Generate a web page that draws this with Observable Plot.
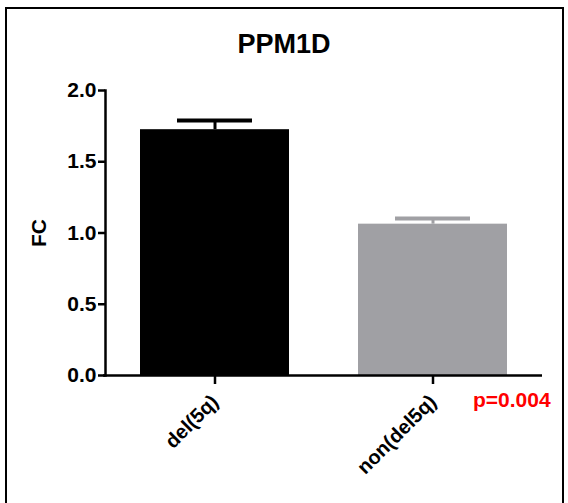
<!DOCTYPE html>
<html>
<head>
<meta charset="utf-8">
<script src="https://cdn.jsdelivr.net/npm/d3@7"></script>
<script src="https://cdn.jsdelivr.net/npm/@observablehq/plot@0.6"></script>
<style>
  body { margin: 0; background: #fff; }
  #wrap { position: relative; width: 568px; height: 503px; overflow: hidden; background: #fff;
          font-family: "Liberation Sans", Arial, Helvetica, sans-serif; font-weight: bold; }
  #border { position: absolute; left: 5px; top: 7px; width: 559px; height: 520px; border: 2.5px solid #000; box-sizing: border-box; }
  #title { position: absolute; left: 0; top: 31px; width: 568px; text-align: center; font-size: 27px; line-height: 27px; color: #000; }
  #ylabel { position: absolute; left: 38px; top: 233px; font-size: 21px; line-height: 21px; transform: translate(-50%, -50%) rotate(-90deg); white-space: nowrap; }
  #chart { position: absolute; left: 0; top: 70px; }
  #pval { position: absolute; left: 473px; top: 390px; font-size: 21px; line-height: 20px; color: #ff0000; }
</style>
</head>
<body>
<div id="wrap">
  <div id="border"></div>
  <div id="title"></div>
  <div id="ylabel"></div>
  <div id="chart"></div>
  <div id="pval"></div>
</div>
<script>
const title = "PPM1D";
const groups = ["del(5q)", "non(del5q)"];
const fcMean = [1.725, 1.062];
const fcSem = [0.065, 0.040];
const barColors = ["#000000", "#a0a0a4"];
const yTicks = [0, 0.5, 1.0, 1.5, 2.0];
const yLabel = "FC";
const pText = "p=0.004";

const data = groups.map((g, i) => ({group: g, fc: fcMean[i], top: fcMean[i] + fcSem[i], color: barColors[i]}));

document.getElementById("title").textContent = title;
document.getElementById("ylabel").textContent = yLabel;
document.getElementById("pval").textContent = pText;

const chart = Plot.plot({
  width: 568,
  height: 433,
  marginTop: 20,
  marginBottom: 128,
  marginLeft: 105,
  marginRight: 26,
  style: {fontFamily: '"Liberation Sans", Arial, sans-serif', fontWeight: "bold", fontSize: "21px", color: "#000", background: "transparent"},
  x: {domain: groups, paddingInner: 0.318, paddingOuter: 0.16},
  y: {domain: [0, 2]},
  marks: [
    Plot.barY(data, {x: "group", y: "fc", fill: "color"}),
    Plot.ruleX(data, {x: "group", y1: "fc", y2: "top", stroke: "color", strokeWidth: 3}),
    Plot.tickY(data, {x: "group", y: "top", stroke: "color", strokeWidth: 4, insetLeft: 37, insetRight: 37}),
    Plot.axisY({ticks: yTicks, tickFormat: d3.format(".1f"), tickSize: 7, tickPadding: 2, strokeWidth: 2.5,
                label: null, fontSize: 21}),
    Plot.axisX({tickRotate: -45, tickSize: 9, tickPadding: 14, strokeWidth: 2.5, label: null, fontSize: 20}),
    Plot.frame({anchor: "left", strokeWidth: 2.5}),
    Plot.ruleY([0], {strokeWidth: 2.5, insetLeft: -2})
  ]
});
document.getElementById("chart").appendChild(chart);
</script>
</body>
</html>
